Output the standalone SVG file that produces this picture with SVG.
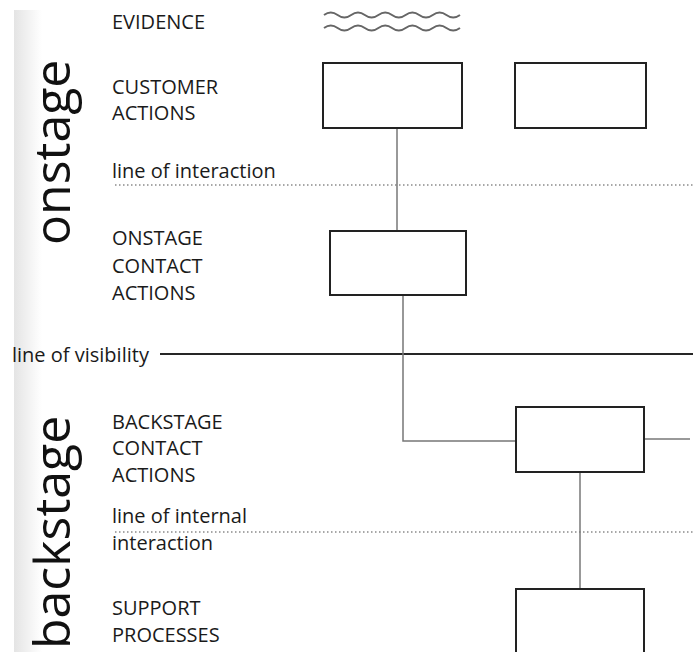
<svg xmlns="http://www.w3.org/2000/svg" width="693" height="652" viewBox="0 0 693 652">
  <defs>
    <linearGradient id="bandFade" x1="0" y1="0" x2="1" y2="0">
      <stop offset="0" stop-color="#e4e4e4"/>
      <stop offset="1" stop-color="#ffffff"/>
    </linearGradient>
    <style>
      .label { font-family: "Open Sans", "Noto Sans", "Liberation Sans", sans-serif; font-size: 20px; fill: #1a1a1a; }
      .zone { font-family: "Open Sans", "Noto Sans", "Liberation Sans", sans-serif; font-size: 50px; fill: #111; }
      .box { fill: #ffffff; stroke: #222; stroke-width: 2; }
      .link { fill: none; stroke: #777; stroke-width: 1.5; }
      .dotted { fill: none; stroke: #8a8a8a; stroke-width: 1.5; stroke-dasharray: 1.5 2.5; }
      .solid { fill: none; stroke: #262626; stroke-width: 2; }
      .wave { fill: none; stroke: #666; stroke-width: 2; }
    </style>
  </defs>

  <rect width="693" height="652" fill="#ffffff"/>
  <!-- soft shaded band behind the zone titles -->
  <rect x="14" y="10" width="28" height="642" fill="url(#bandFade)"/>

  <!-- zone titles -->
  <text class="zone" transform="translate(70,245) rotate(-90)">onstage</text>
  <text class="zone" transform="translate(70,649) rotate(-90)">backstage</text>

  <!-- row labels -->
  <g id="row-labels">
    <text class="label" x="112" y="29">EVIDENCE</text>
    <text class="label" x="112" y="94">CUSTOMER</text>
    <text class="label" x="112" y="120">ACTIONS</text>
    <text class="label" x="112" y="178">line of interaction</text>
    <text class="label" x="112" y="245">ONSTAGE</text>
    <text class="label" x="112" y="273">CONTACT</text>
    <text class="label" x="112" y="300">ACTIONS</text>
    <text class="label" x="12" y="362">line of visibility</text>
    <text class="label" x="112" y="429">BACKSTAGE</text>
    <text class="label" x="112" y="455">CONTACT</text>
    <text class="label" x="112" y="482">ACTIONS</text>
    <text class="label" x="112" y="523">line of internal</text>
    <text class="label" x="112" y="550">interaction</text>
    <text class="label" x="112" y="615">SUPPORT</text>
    <text class="label" x="112" y="642">PROCESSES</text>
  </g>

  <!-- boundary lines -->
  <g id="boundaries">
    <path class="dotted" d="M115,185 H693"/>
    <path class="solid" d="M160,354 H693"/>
    <path class="dotted" d="M115,532 H693"/>
  </g>

  <!-- connectors -->
  <g id="connectors">
    <path class="link" d="M397,128 V231"/>
    <path class="link" d="M403,295 V441 H516"/>
    <path class="link" d="M644,439 H690"/>
    <path class="link" d="M580,472 V589"/>
  </g>

  <!-- evidence -->
  <g id="evidence">
    <path class="wave" d="M324,15 q6.8,-5 13.6,0 t13.6,0 t13.6,0 t13.6,0 t13.6,0 t13.6,0 t13.6,0 t13.6,0 t13.6,0 t13.6,0"/>
    <path class="wave" d="M324,28 q6.8,-5 13.6,0 t13.6,0 t13.6,0 t13.6,0 t13.6,0 t13.6,0 t13.6,0 t13.6,0 t13.6,0 t13.6,0"/>
  </g>

  <g id="customer-action-1"><rect class="box" x="323" y="63" width="139" height="65"/></g>
  <g id="customer-action-2"><rect class="box" x="515" y="63" width="131" height="65"/></g>
  <g id="onstage-contact"><rect class="box" x="330" y="231" width="136" height="64"/></g>
  <g id="backstage-contact"><rect class="box" x="516" y="407" width="128" height="65"/></g>
  <g id="support-process"><rect class="box" x="516" y="589" width="128" height="72"/></g>
</svg>
